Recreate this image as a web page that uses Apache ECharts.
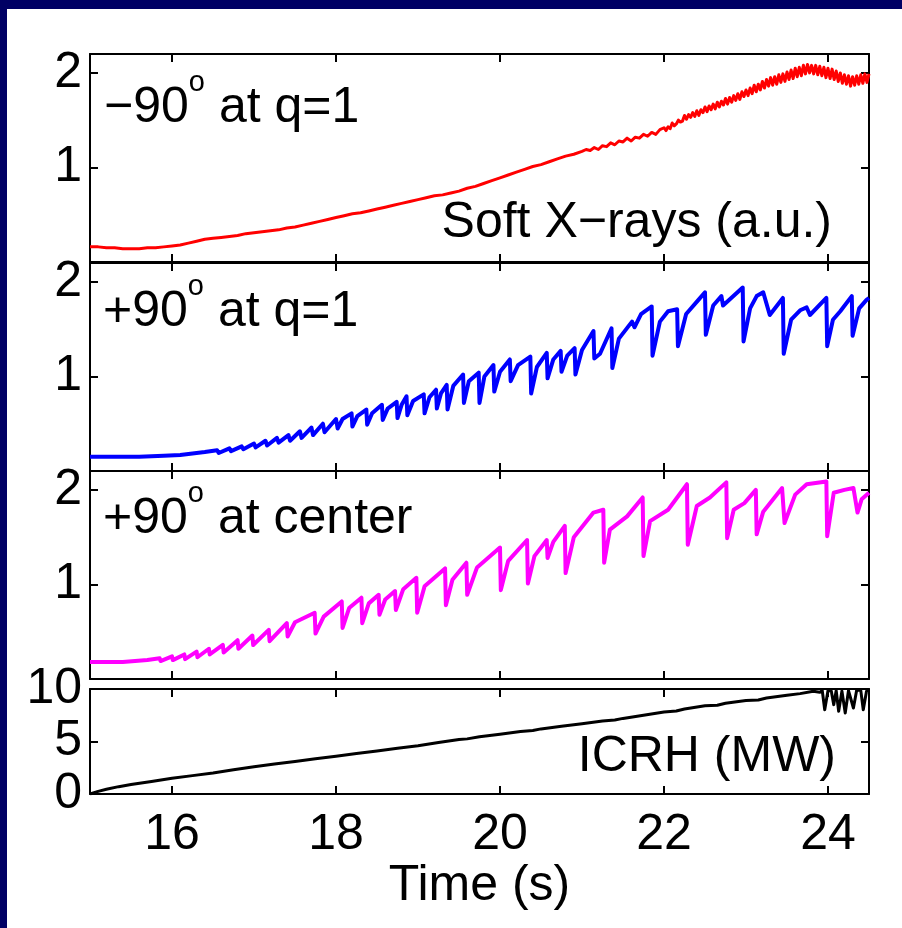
<!DOCTYPE html>
<html>
<head>
<meta charset="utf-8">
<script src="https://cdn.jsdelivr.net/npm/echarts@6/dist/echarts.min.js"></script>
<style>
  html, body { margin: 0; padding: 0; background: #ffffff; }
  #chart { width: 902px; height: 928px; }
</style>
</head>
<body>
<div id="chart"></div>
<script>
// Time axis ticks (s)
const timeTicks = [16, 18, 20, 22, 24];
const sxrTicks = [1, 2];
const icrhTicks = [0, 5, 10];

// Soft X-ray signal, -90 deg phasing, channel at q=1  [time s, a.u.]
const sxrMinus90q1 = [
  [15.0,0.16],[15.1,0.16],[15.2,0.15],[15.3,0.15],[15.4,0.14],[15.5,0.14],[15.6,0.14],[15.7,0.15],
  [15.8,0.15],[15.9,0.16],[16.0,0.17],[16.1,0.18],[16.2,0.20],[16.3,0.22],[16.4,0.24],[16.5,0.25],
  [16.6,0.26],[16.7,0.27],[16.8,0.28],[16.9,0.30],[17.0,0.31],[17.1,0.32],[17.2,0.33],[17.3,0.34],
  [17.4,0.36],[17.5,0.37],[17.6,0.39],[17.7,0.41],[17.8,0.43],[17.9,0.45],[18.0,0.47],[18.1,0.49],
  [18.2,0.51],[18.3,0.52],[18.4,0.54],[18.5,0.56],[18.6,0.58],[18.7,0.60],[18.8,0.62],[18.9,0.64],
  [19.0,0.66],[19.1,0.68],[19.2,0.70],[19.3,0.71],[19.4,0.73],[19.5,0.75],[19.6,0.78],[19.7,0.80],
  [19.8,0.83],[19.9,0.86],[20.0,0.89],[20.1,0.92],[20.2,0.95],[20.3,0.98],[20.4,1.01],[20.5,1.03],
  [20.6,1.06],[20.7,1.09],[20.8,1.12],[20.9,1.14],[21.0,1.17],
  [21.05,1.19],[21.10,1.18],[21.15,1.21],[21.20,1.19],[21.25,1.23],[21.30,1.22],[21.35,1.26],
  [21.40,1.24],[21.45,1.28],[21.50,1.27],[21.55,1.31],[21.60,1.28],[21.65,1.32],[21.70,1.31],
  [21.75,1.35],[21.80,1.33],[21.85,1.37],[21.90,1.35],[21.95,1.40],
  [22.000,1.42],[22.025,1.39],[22.050,1.43],[22.075,1.41],[22.100,1.47],[22.125,1.44],[22.150,1.46],
  [22.175,1.50],[22.200,1.48],[22.225,1.49],[22.250,1.55],[22.275,1.51],[22.300,1.56],[22.325,1.53],
  [22.350,1.58],[22.375,1.54],[22.400,1.60],[22.425,1.55],[22.450,1.61],[22.475,1.58],[22.500,1.64],
  [22.525,1.59],[22.550,1.65],[22.575,1.61],[22.600,1.67],[22.625,1.62],[22.650,1.69],[22.675,1.64],
  [22.700,1.70],[22.725,1.66],[22.750,1.73],[22.775,1.67],[22.800,1.74],[22.825,1.69],[22.850,1.76],
  [22.875,1.71],[22.900,1.78],[22.925,1.72],[22.950,1.80],[22.975,1.75],[23.000,1.82],[23.025,1.76],
  [23.050,1.84],[23.075,1.78],[23.100,1.87],[23.125,1.80],[23.150,1.88],[23.175,1.82],[23.200,1.91],
  [23.225,1.84],[23.250,1.93],[23.275,1.86],[23.300,1.95],[23.325,1.87],[23.350,1.96],[23.375,1.88],
  [23.400,1.98],[23.425,1.90],[23.450,1.99],[23.475,1.91],[23.500,2.01],[23.525,1.93],[23.550,2.03],
  [23.575,1.94],[23.600,2.05],[23.625,1.96],[23.650,2.06],[23.675,1.97],[23.700,2.08],[23.725,1.99],
  [23.750,2.09],[23.775,2.00],[23.800,2.08],[23.825,1.99],[23.850,2.08],[23.875,1.98],[23.900,2.07],
  [23.925,1.97],[23.950,2.06],[23.975,1.95],[24.000,2.05],[24.025,1.94],[24.050,2.04],[24.075,1.93],
  [24.100,2.02],[24.125,1.91],[24.150,2.00],[24.175,1.89],[24.200,1.98],[24.225,1.88],[24.250,1.97],
  [24.275,1.86],[24.300,1.96],[24.325,1.87],[24.350,1.97],[24.375,1.88],[24.400,1.98],[24.425,1.89],
  [24.450,1.99],[24.475,1.90],[24.500,1.99]
];

// Soft X-ray signal, +90 deg phasing, channel at q=1 (sawtooth crashes)
const sxrPlus90q1 = [
  [15.00,0.15],[15.30,0.15],[15.60,0.15],[15.90,0.16],[16.10,0.17],[16.30,0.19],
  [16.40,0.20],[16.42,0.18],[16.55,0.22],[16.57,0.19],[16.70,0.24],[16.72,0.21],
  [16.85,0.26],[16.87,0.23],[17.00,0.29],[17.02,0.25],[17.14,0.32],[17.16,0.27],
  [17.28,0.35],[17.30,0.30],[17.42,0.38],[17.44,0.32],[17.56,0.42],[17.58,0.35],
  [17.70,0.46],[17.72,0.38],[17.84,0.50],[17.86,0.41],[18.00,0.55],[18.02,0.45],
  [18.08,0.55],[18.19,0.61],[18.20,0.47],[18.26,0.58],[18.37,0.65],[18.38,0.49],
  [18.44,0.61],[18.56,0.70],[18.57,0.54],[18.63,0.66],[18.74,0.73],[18.75,0.56],
  [18.80,0.70],[18.86,0.79],[18.87,0.59],[18.94,0.74],[19.07,0.81],[19.08,0.61],
  [19.14,0.78],[19.22,0.86],[19.23,0.66],[19.28,0.82],[19.35,0.91],[19.36,0.65],
  [19.43,0.90],[19.55,1.02],[19.56,0.72],[19.62,0.95],[19.74,1.04],[19.75,0.72],
  [19.81,1.00],[19.92,1.12],[19.93,0.84],[20.00,1.05],[20.12,1.18],[20.13,0.95],
  [20.22,1.12],[20.37,1.21],[20.38,0.82],[20.45,1.10],[20.57,1.25],[20.58,0.98],
  [20.65,1.18],[20.74,1.27],[20.75,1.05],[20.82,1.22],[20.91,1.30],[20.92,1.02],
  [21.00,1.28],[21.14,1.48],[21.15,1.19],[21.22,1.24],[21.36,1.51],[21.37,1.09],
  [21.45,1.40],[21.61,1.58],[21.64,1.52],[21.72,1.66],[21.85,1.74],[21.86,1.22],
  [21.95,1.58],[22.05,1.69],[22.16,1.71],[22.17,1.32],[22.27,1.66],[22.42,1.81],
  [22.50,1.89],[22.51,1.44],[22.60,1.75],[22.70,1.85],[22.72,1.75],[22.96,1.94],
  [22.97,1.37],[23.05,1.72],[23.13,1.85],[23.21,1.89],[23.29,1.65],[23.45,1.83],
  [23.46,1.24],[23.55,1.60],[23.66,1.70],[23.74,1.73],[23.78,1.65],[23.98,1.83],
  [23.99,1.32],[24.06,1.60],[24.15,1.69],[24.29,1.85],[24.30,1.43],[24.38,1.72],
  [24.47,1.81],[24.50,1.83]
];

// Soft X-ray signal, +90 deg phasing, central channel (sawtooth crashes)
const sxrPlus90center = [
  [15.00,0.18],[15.40,0.18],[15.70,0.20],[15.85,0.22],[15.86,0.19],[16.00,0.24],[16.01,0.20],
  [16.15,0.26],[16.16,0.21],[16.30,0.29],[16.31,0.23],[16.45,0.32],[16.46,0.26],
  [16.62,0.36],[16.63,0.28],[16.80,0.41],[16.81,0.32],[16.98,0.46],[16.99,0.36],
  [17.18,0.52],[17.19,0.40],[17.40,0.59],[17.41,0.45],[17.50,0.60],[17.74,0.70],[17.75,0.48],
  [17.85,0.66],[18.07,0.82],[18.08,0.54],[18.16,0.75],[18.31,0.86],[18.32,0.59],
  [18.40,0.80],[18.52,0.89],[18.53,0.68],[18.60,0.84],[18.72,0.93],[18.73,0.73],
  [18.82,0.95],[18.98,1.07],[18.99,0.70],[19.08,0.98],[19.33,1.17],[19.34,0.78],
  [19.42,1.05],[19.59,1.23],[19.60,0.89],[19.72,1.18],[20.00,1.39],[20.01,0.94],
  [20.10,1.25],[20.33,1.47],[20.34,1.01],[20.42,1.30],[20.57,1.47],[20.58,1.28],
  [20.65,1.45],[20.79,1.62],[20.80,1.12],[20.90,1.50],[21.14,1.76],[21.26,1.79],
  [21.27,1.23],[21.34,1.58],[21.55,1.72],[21.74,1.92],[21.75,1.30],[21.83,1.67],
  [22.05,1.79],[22.28,2.06],[22.29,1.42],[22.40,1.83],[22.56,1.92],[22.76,2.08],
  [22.77,1.49],[22.85,1.79],[22.98,1.86],[23.12,2.00],[23.13,1.53],[23.21,1.77],
  [23.44,2.02],[23.47,1.65],[23.60,1.95],[23.74,2.06],[23.98,2.09],[23.99,1.51],
  [24.07,1.97],[24.20,2.00],[24.31,2.02],[24.36,1.76],[24.41,1.90],[24.50,1.97]
];

// Coupled ICRH power (MW)
const icrhPower = [
  [15.00,0.00],[15.10,0.25],[15.20,0.45],[15.35,0.70],[15.50,0.90],[15.75,1.20],[16.00,1.50],
  [16.25,1.75],[16.50,2.00],[16.75,2.30],[17.00,2.60],[17.25,2.85],[17.50,3.10],[17.75,3.35],
  [18.00,3.60],[18.25,3.85],[18.50,4.10],[18.75,4.35],[19.00,4.60],[19.25,4.90],[19.50,5.20],
  [19.60,5.25],[19.75,5.45],[20.00,5.70],[20.25,5.95],[20.40,6.05],[20.50,6.20],[20.75,6.45],
  [21.00,6.70],[21.25,6.95],[21.40,7.05],[21.50,7.20],[21.75,7.50],[22.00,7.80],[22.15,7.90],
  [22.25,8.10],[22.50,8.40],[22.65,8.45],[22.75,8.65],[23.00,8.90],[23.15,8.95],[23.25,9.15],
  [23.50,9.40],[23.66,9.56],[23.82,9.78],[23.90,9.70],[23.93,9.85],[23.96,8.03],[24.00,9.85],
  [24.04,9.80],[24.07,8.51],[24.10,9.85],[24.13,7.87],[24.17,9.80],[24.21,7.71],[24.25,9.85],
  [24.31,8.19],[24.35,9.90],[24.40,9.85],[24.43,8.03],[24.47,9.80],[24.50,9.85]
];

const FONT = 'Liberation Sans';
const NAVY = '#000064';

const panels = [
  { data: sxrMinus90q1,    color: '#ff0000', width: 3, yMin: 0, yMax: 2.2, yTicks: sxrTicks,  top: 54,  height: 208 },
  { data: sxrPlus90q1,     color: '#0000ff', width: 4, yMin: 0, yMax: 2.2, yTicks: sxrTicks,  top: 263, height: 208 },
  { data: sxrPlus90center, color: '#ff00ff', width: 4, yMin: 0, yMax: 2.2, yTicks: sxrTicks,  top: 471, height: 208 },
  { data: icrhPower,       color: '#000000', width: 3, yMin: 0, yMax: 10,  yTicks: icrhTicks, top: 689, height: 105 }
];

const frameLine = { show: true, onZero: false, lineStyle: { color: '#000', width: 2 } };
const tickStyle = { color: '#000', width: 2 };
const labelText = { color: '#000', fontFamily: FONT, fontSize: 50 };

const grid = [], xAxis = [], yAxis = [], series = [];
panels.forEach((p, i) => {
  grid.push({ left: 90, width: 779, top: p.top, height: p.height, containLabel: false });
  const last = i === panels.length - 1;
  // bottom and top time axes (box frame)
  xAxis.push({
    type: 'value', gridIndex: i, position: 'bottom', min: 15, max: 24.5,
    axisLine: frameLine,
    axisTick: { show: true, inside: true, length: 8, customValues: timeTicks, lineStyle: tickStyle },
    axisLabel: Object.assign({ show: last, margin: 16, customValues: timeTicks }, labelText),
    splitLine: { show: false },
    name: last ? 'Time (s)' : '', nameLocation: 'middle', nameGap: 64,
    nameTextStyle: labelText
  });
  xAxis.push({
    type: 'value', gridIndex: i, position: 'top', min: 15, max: 24.5,
    axisLine: frameLine,
    axisTick: { show: true, inside: true, length: 8, customValues: timeTicks, lineStyle: tickStyle },
    axisLabel: { show: false },
    splitLine: { show: false }
  });
  yAxis.push({
    type: 'value', gridIndex: i, position: 'left', min: p.yMin, max: p.yMax,
    axisLine: frameLine,
    axisTick: { show: true, inside: true, length: 8, customValues: p.yTicks, lineStyle: tickStyle },
    axisLabel: Object.assign({ show: true, margin: 8, customValues: p.yTicks }, labelText),
    splitLine: { show: false }
  });
  yAxis.push({
    type: 'value', gridIndex: i, position: 'right', min: p.yMin, max: p.yMax,
    axisLine: frameLine,
    axisTick: { show: true, inside: true, length: 8, customValues: p.yTicks, lineStyle: tickStyle },
    axisLabel: { show: false },
    splitLine: { show: false }
  });
  series.push({
    type: 'line', xAxisIndex: 2 * i, yAxisIndex: 2 * i,
    data: p.data, showSymbol: false, symbol: 'none', clip: true,
    lineStyle: { color: p.color, width: p.width, join: 'round' },
    itemStyle: { color: p.color }
  });
});

// Panel annotations
const big = { fontSize: 50, fontFamily: FONT, fill: '#000', lineHeight: 80 };
const sup = { fontSize: 29, fontFamily: FONT, fill: '#000', lineHeight: 29, verticalAlign: 'top', padding: [0, 14, 0, 0] };
function note(x, y, text, align) {
  return {
    type: 'text', x: x, y: y, z: 100,
    style: { text: text, align: align || 'left', verticalAlign: 'top', rich: { m: big, s: sup }, fill: '#000', font: '50px ' + FONT }
  };
}

const graphic = [
  { type: 'rect', shape: { x: 0, y: 0, width: 902, height: 9 }, style: { fill: NAVY }, z: 200 },
  { type: 'rect', shape: { x: 0, y: 0, width: 7, height: 928 }, style: { fill: NAVY }, z: 200 },
  note(104, 68, '{m|\u221290}{s|o}{m|at q=1}'),
  note(103, 272, '{m|+90}{s|o}{m|at q=1}'),
  note(103, 479, '{m|+90}{s|o}{m|at center}'),
  note(832, 183, '{m|Soft X\u2212rays (a.u.)}', 'right'),
  note(836, 717, '{m|ICRH (MW)}', 'right')
];

const chart = echarts.init(document.getElementById('chart'), null, { renderer: 'canvas' });
chart.setOption({
  animation: false,
  backgroundColor: '#ffffff',
  grid: grid, xAxis: xAxis, yAxis: yAxis, series: series,
  graphic: graphic
});
</script>
</body>
</html>
